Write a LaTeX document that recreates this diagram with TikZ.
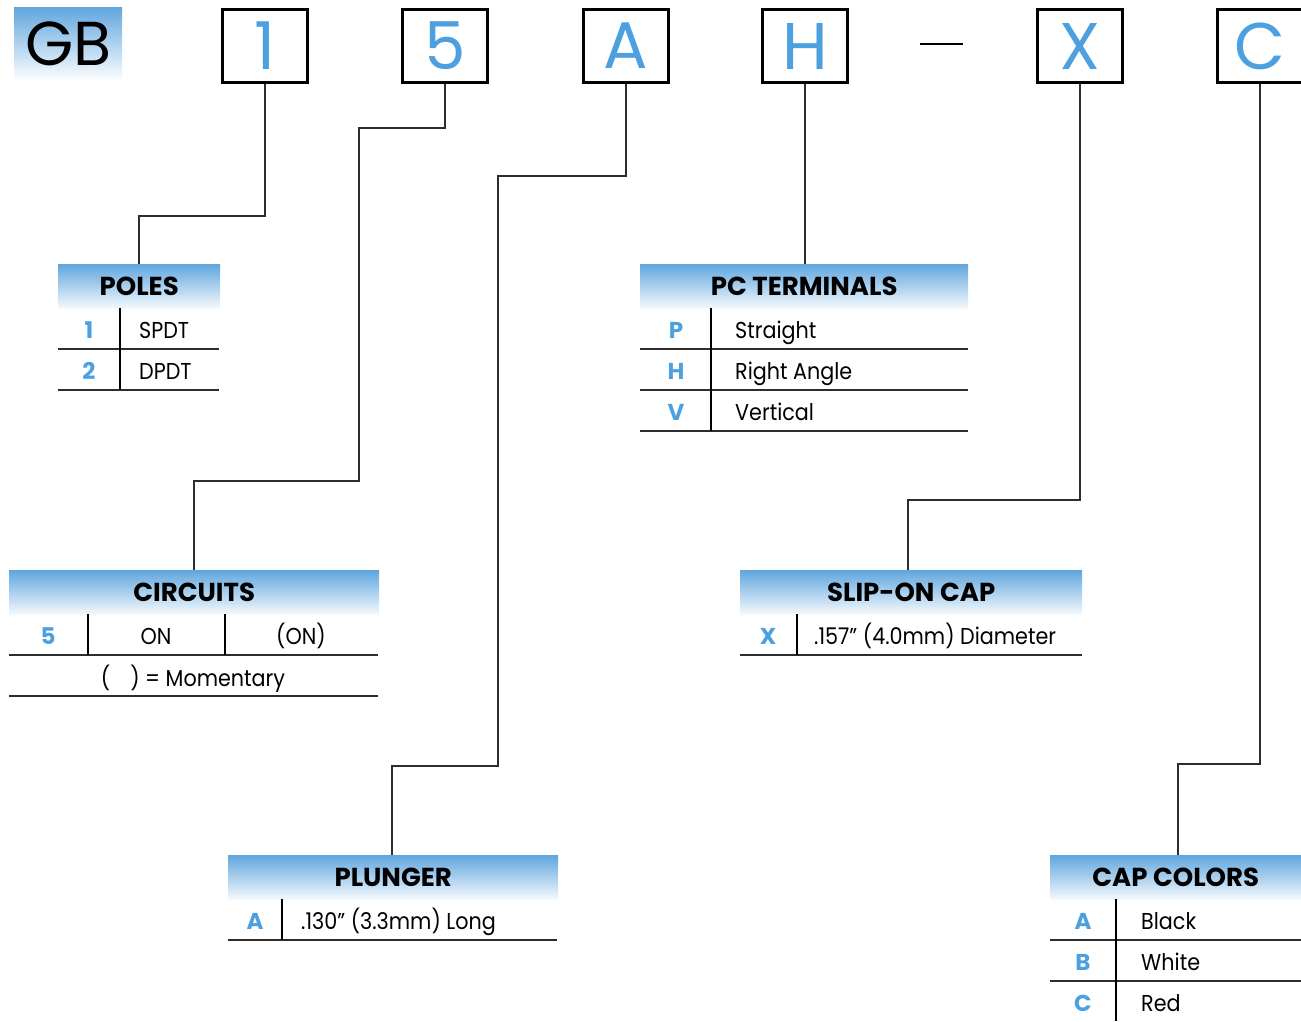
\documentclass[tikz,border=0pt]{standalone}
\usepackage{fontspec}
\setmainfont{Poppins}
\newfontfamily\bodyfont{Poppins}[FakeStretch=0.9]
\definecolor{codeblue}{RGB}{77,160,223}
\definecolor{hdrtop}{RGB}{96,166,222}
\definecolor{hdrbot}{RGB}{244,249,253}
\definecolor{rulegray}{RGB}{45,45,45}
\begin{document}
\begin{tikzpicture}[x=1pt,y=-1pt,
  topbox/.style={draw=black, line width=3pt, minimum width=85pt, minimum height=73pt, inner sep=0pt, anchor=north west, text=codeblue, font=\fontsize{66}{66}\selectfont},
  hdr/.style={top color=hdrtop, bottom color=hdrbot, draw=none, inner sep=0pt, minimum height=44pt, anchor=north west, font=\bfseries\fontsize{26}{26}\selectfont, text depth=0pt},
  code/.style={anchor=base, text=codeblue, font=\bfseries\fontsize{23}{23}\selectfont, inner sep=0pt},
  cell/.style={anchor=base west, font=\bodyfont\fontsize{23}{23}\selectfont, inner sep=0pt},
  cellc/.style={anchor=base, font=\bodyfont\fontsize{23}{23}\selectfont, inner sep=0pt},
  rule/.style={draw=rulegray, line width=1.5pt},
  divider/.style={draw=black, line width=1.4pt},
  conn/.style={draw=rulegray, line width=1.5pt}]
\useasboundingbox (0,0) rectangle (1301,1021);
% GB badge
\node[top color=hdrtop, bottom color=white, minimum width=108pt, minimum height=74pt, inner sep=0pt, anchor=north west, font=\fontsize{62}{62}\selectfont] (gb) at (14,7) {GB};
% top boxes
\node[topbox] (b1) at (221,8) {1};
\node[topbox] (b5) at (401,8) {5};
\node[topbox] (bA) at (582,8) {A};
\node[topbox] (bH) at (761,8) {H};
\node[topbox] (bX) at (1036,8) {X};
\node[topbox] (bC) at (1216,8) {C};
\coordinate (dashl) at (920,44);
\coordinate (dashr) at (963,44);
\draw[line width=2.5pt] (dashl) -- (dashr);
% ---- POLES
\node[hdr, minimum width=162pt] (poles) at (58,264) {POLES};
\node[code] (p1) at (89,338) {1};
\node[cell] (p1t) at (139,338) {SPDT};
\node[code] (p2) at (89,379) {2};
\node[cell] (p2t) at (139,379) {DPDT};
\draw[rule] (58,349) -- (219,349);
\draw[rule] (58,390) -- (219,390);
\draw[divider] (120,308) -- (120,390);
% ---- PC TERMINALS
\node[hdr, minimum width=328pt] (pc) at (640,264) {PC TERMINALS};
\node[code] (pcP) at (676,338) {P};
\node[cell] (pcPt) at (735,338) {Straight};
\node[code] (pcH) at (676,379) {H};
\node[cell] (pcHt) at (735,379) {Right Angle};
\node[code] (pcV) at (676,420) {V};
\node[cell] (pcVt) at (735,420) {Vertical};
\draw[rule] (640,349) -- (968,349);
\draw[rule] (640,390) -- (968,390);
\draw[rule] (640,431) -- (968,431);
\draw[divider] (711,308) -- (711,431);
% ---- CIRCUITS
\node[hdr, minimum width=370pt] (circ) at (9,570) {CIRCUITS};
\node[code] (c5) at (48,644) {5};
\node[cellc] (con) at (156,644) {ON};
\node[cellc] (cmom) at (301,644) {(ON)};
\node[cellc] (cnote) at (193,686) {(\hspace{20pt}) = Momentary};
\draw[rule] (9,655) -- (378,655);
\draw[rule] (9,696) -- (378,696);
\draw[divider] (88,614) -- (88,655);
\draw[divider] (225,614) -- (225,655);
% ---- SLIP-ON CAP
\node[hdr, minimum width=342pt] (slip) at (740,570) {SLIP-ON CAP};
\node[code] (sX) at (768,644) {X};
\node[cell] (sXt) at (814,644) {.157” (4.0mm) Diameter};
\draw[rule] (740,655) -- (1082,655);
\draw[divider] (797,614) -- (797,655);
% ---- PLUNGER
\node[hdr, minimum width=330pt] (plg) at (228,855) {PLUNGER};
\node[code] (pA) at (255,929) {A};
\node[cell] (pAt) at (301,929) {.130” (3.3mm) Long};
\draw[rule] (228,940) -- (557,940);
\draw[divider] (282,899) -- (282,940);
% ---- CAP COLORS
\node[hdr, minimum width=251pt] (cc) at (1050,855) {CAP COLORS};
\node[code] (ccA) at (1083,929) {A};
\node[cell] (ccAt) at (1141,929) {Black};
\node[code] (ccB) at (1083,970) {B};
\node[cell] (ccBt) at (1141,970) {White};
\node[code] (ccC) at (1083,1011) {C};
\node[cell] (ccCt) at (1141,1011) {Red};
\draw[rule] (1050,940) -- (1301,940);
\draw[rule] (1050,981) -- (1301,981);
\draw[divider] (1116,899) -- (1116,1021);
% ---- connectors
\coordinate (k1) at (139,216);
\coordinate (k5a) at (359,128);
\coordinate (k5b) at (194,481);
\coordinate (kAa) at (498,176);
\coordinate (kAb) at (392,766);
\coordinate (kX) at (908,500);
\coordinate (kC) at (1178,764);
\draw[conn] (b1.south) |- (k1) -- (k1 |- poles.north);
\draw[conn] (b5.south) |- (k5a) |- (k5b) -- (k5b |- circ.north);
\draw[conn] (bA.south) |- (kAa) |- (kAb) -- (kAb |- plg.north);
\draw[conn] (bH.south) -- (bH.south |- pc.north);
\draw[conn] (bX.south) |- (kX) -- (kX |- slip.north);
\draw[conn] (bC.south) |- (kC) -- (kC |- cc.north);
\end{tikzpicture}
\end{document}
